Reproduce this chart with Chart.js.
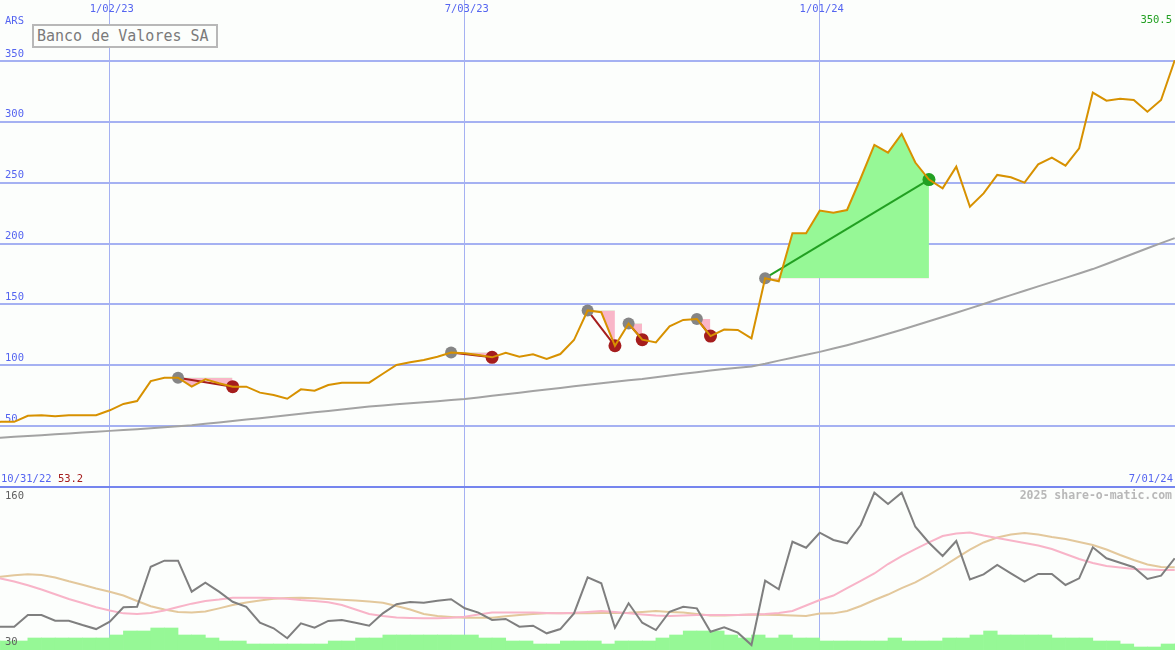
<!DOCTYPE html>
<html><head><meta charset="utf-8">
<script src="https://cdn.jsdelivr.net/npm/chart.js@4.4.1/dist/chart.umd.min.js"></script>
<style>
html,body{margin:0;padding:0;background:#fcfefc;}
#wrap{position:relative;width:1175px;height:650px;overflow:hidden;background:#fcfefc;}
#top{position:absolute;left:0;top:0;}
#bot{position:absolute;left:0;top:488px;}
#sep{position:absolute;left:0;top:486px;width:1175px;height:2px;background:#7585ee;}
#title{position:absolute;left:32px;top:24px;width:186px;height:24px;box-sizing:border-box;border:2px solid #b8b8b8;background:#fcfefc;font:15px "DejaVu Sans Mono",monospace;color:#7a7a7a;line-height:20px;padding-left:3px;white-space:nowrap;}
</style></head>
<body>
<div id="wrap">
<canvas id="top" width="1175" height="487"></canvas>
<canvas id="bot" width="1175" height="162"></canvas>
<div id="sep"></div>
<div id="title">Banco de Valores SA</div>
</div>
<script>
// ---- data (weekly, index 0 = 10/31/22, index 87 = 7/01/24) ----
const startDateLabel = '10/31/22';
const endDateLabel = '7/01/24';
const currencyLabel = 'ARS';
const dateTicks = [9, 35, 61];
const dateTickLabels = ['1/02/23', '7/03/23', '1/01/24'];
const priceTicks = [50, 100, 150, 200, 250, 300, 350];
const indicatorTickLabels = ['160', '30'];
const watermark = '2025 share-o-matic.com';

const price = [53.2,53.5,53.5,58.5,59.0,58.2,59.0,59.0,59.0,63.0,
  68.2,70.6,87.0,89.8,89.8,82.4,88.5,85.2,82.4,82.4,
  77.5,75.6,72.5,80.2,79.1,83.8,85.7,85.7,85.7,93.0,
  100.2,102.4,104.3,107.0,110.5,109.8,108.4,106.5,110.3,107.0,
  109.0,105.1,109.2,120.7,145.0,143.5,116.0,134.2,121.0,118.7,
  132.0,137.2,138.0,124.0,129.3,129.0,122.1,171.5,169.0,208.5,
  208.5,227.0,225.3,227.5,253.6,281.0,274.6,290.0,266.5,252.5,
  245.3,263.1,230.2,241.2,256.3,254.4,250.0,265.0,270.5,264.0,
  278.2,324.0,317.3,318.9,317.9,308.3,317.9,350.5];

const priceAvg = [40.0,40.5,41.2,41.9,42.6,43.3,44.0,44.7,45.4,46.1,
  46.8,47.5,48.3,49.1,49.8,50.7,51.9,53.0,54.2,55.4,
  56.5,57.7,58.9,60.1,61.3,62.5,63.7,64.9,66.1,67.0,
  67.9,68.8,69.6,70.5,71.4,72.3,73.6,74.9,76.2,77.5,
  78.8,80.1,81.4,82.7,84.0,85.3,86.5,87.7,88.8,90.2,
  91.6,93.0,94.3,95.6,96.9,98.0,99.0,101.2,103.8,106.2,
  108.6,111.0,113.7,116.5,119.5,122.6,125.9,129.2,132.6,136.1,
  139.6,143.1,146.7,150.3,154.0,157.6,161.2,164.8,168.3,171.8,
  175.3,179.0,183.2,187.5,191.8,196.1,200.3,204.4];

const tradeEntry = [14, 34, 44, 47, 52, 57];
const tradeExit  = [18, 37, 46, 48, 53, 69];

const strength = [48.7,48.7,48.7,58.1,58.1,53.5,53.5,50.0,46.8,52.7,
  64.3,64.7,96.8,101.7,101.7,76.8,84.0,76.8,68.7,64.7,
  51.9,47.4,39.4,51.4,47.9,53.3,54.1,51.9,49.5,59.4,
  66.7,68.5,67.9,69.6,70.7,63.5,60.0,54.1,54.9,48.7,
  49.5,43.4,46.8,59.4,88.3,83.5,47.9,67.5,51.9,46.0,
  60.7,64.7,63.4,44.7,48.2,43.9,34.0,85.6,78.7,116.9,
  112.1,124.1,118.3,115.6,130.3,156.2,147.2,156.2,128.9,116.1,
  105.4,117.5,86.7,90.7,98.2,91.5,84.8,91.0,91.0,82.2,
  87.5,112.4,103.6,100.0,96.4,87.0,89.6,103.6];

const strengthFast = [90.2,87.4,85.0,81.9,78.5,74.7,70.9,67.7,64.3,61.7,
  59.4,58.9,59.7,61.7,64.5,67.2,69.3,70.5,72.0,72.0,
  72.0,71.7,71.2,70.1,69.3,68.3,66.1,62.5,58.9,57.3,
  56.1,55.7,55.4,55.4,55.9,56.7,58.5,60.0,60.0,60.0,
  60.0,59.7,59.4,59.8,60.5,61.3,60.5,59.4,58.5,57.7,
  57.3,57.7,58.1,58.1,58.1,58.1,58.5,58.9,59.7,61.3,
  65.7,70.1,73.7,79.7,85.4,91.4,99.0,105.4,111.0,116.3,
  121.5,123.5,124.3,121.9,119.9,117.9,115.9,113.9,111.0,107.0,
  103.0,99.8,97.4,96.2,95.0,94.6,94.2,94.2];

const strengthSlow = [87.8,88.8,89.9,90.7,90.2,88.2,85.1,82.3,79.3,76.8,
  73.7,69.3,65.1,62.5,60.5,60.0,60.9,63.4,66.1,68.1,
  69.7,71.2,71.7,72.0,71.5,70.9,70.4,69.7,68.9,67.9,
  65.3,62.5,58.9,57.3,56.5,55.9,55.9,55.9,57.0,58.1,
  58.9,59.4,59.4,59.4,59.4,59.6,59.6,59.8,60.5,61.3,
  60.5,60.0,58.9,57.7,57.7,58.1,58.5,58.2,58.1,57.7,
  57.3,59.3,59.4,61.3,65.3,70.1,74.5,79.7,84.3,90.2,
  96.8,103.8,110.6,116.3,120.3,122.7,123.9,122.7,120.7,119.1,
  116.7,114.3,110.6,106.2,102.2,98.6,96.6,96.4];

const volume = [9,9,9,12,12,12,12,12,12,15,
  19,19,22,22,15,15,12,9,9,6,
  6,6,6,6,6,9,9,12,12,15,
  15,15,15,15,15,15,12,12,9,9,
  6,6,9,9,9,6,9,9,9,12,
  15,19,19,19,15,12,15,12,15,12,
  12,9,9,9,9,9,12,9,9,9,
  12,12,15,19,15,15,15,15,12,12,
  12,9,9,6,3,3,6,6];

// ---- styles ----
const FONT = '"DejaVu Sans Mono", monospace';
const BLUE = '#5565f0';
const GRID = '#a5b1f2';
const ORANGE = '#d79100';
const GAIN = '#96f896';
const LOSSFILL = '#f9b6c8';
const DARKRED = '#a51d1d';
const GREEN = '#22a022';
const XMIN = 0.96, XMAX = 87.02;

const pts = arr => arr.map((v, i) => ({x: i, y: v}));

// ---- top chart datasets ----
const topSets = [];
topSets.push({data: pts(price), borderColor: ORANGE, borderWidth: 2, pointRadius: 0, order: 0});
topSets.push({data: pts(priceAvg), borderColor: '#a3a3a3', borderWidth: 2, pointRadius: 0, order: 5});
tradeEntry.forEach((e, k) => {
  const x = tradeExit[k];
  const gain = price[x] > price[e];
  const seg = [];
  for (let i = e; i <= x; i++) seg.push({x: i, y: price[i]});
  topSets.push({data: seg, borderColor: 'rgba(0,0,0,0)', borderWidth: 0, pointRadius: 0,
    fill: {target: {value: price[e]}, above: GAIN, below: LOSSFILL}, order: 4});
  topSets.push({data: [{x: e, y: price[e]}, {x: x, y: price[x]}], borderColor: gain ? GREEN : DARKRED,
    borderWidth: 2, pointRadius: 0, order: 3});
  topSets.push({data: [{x: e, y: price[e]}], showLine: false, pointRadius: 6, pointHoverRadius: 6,
    pointBackgroundColor: '#858585', pointBorderWidth: 0, order: 2});
  topSets.push({data: [{x: x, y: price[x]}], showLine: false, pointRadius: 6.5, pointHoverRadius: 6.5,
    pointBackgroundColor: gain ? GREEN : DARKRED, pointBorderWidth: 0, order: 1});
});

const topText = {
  id: 'topText',
  afterDraw(chart) {
    const ctx = chart.ctx, xs = chart.scales.x;
    ctx.save();
    ctx.font = '10.5px ' + FONT;
    ctx.textBaseline = 'middle';
    ctx.fillStyle = BLUE;
    ctx.textAlign = 'center';
    dateTicks.forEach((t, k) => ctx.fillText(dateTickLabels[k], xs.getPixelForValue(t) + 2, 9));
    ctx.textAlign = 'left';
    ctx.fillText(currencyLabel, 5, 21);
    ctx.fillText(startDateLabel, 1, 479);
    const w = ctx.measureText(startDateLabel + ' ').width;
    ctx.fillStyle = DARKRED;
    ctx.fillText(price[0].toFixed(1), 1 + w, 479);
    ctx.textAlign = 'right';
    ctx.fillStyle = BLUE;
    ctx.fillText(endDateLabel, 1173, 479);
    ctx.fillStyle = GREEN;
    ctx.fillText(price[price.length - 1].toFixed(1), 1172, 20.5);
    ctx.restore();
  }
};

const xAxis = () => ({type: 'linear', position: 'top', min: XMIN, max: XMAX, offset: false,
  afterBuildTicks: s => { s.ticks = dateTicks.map(v => ({value: v})); },
  afterFit: s => { s.height = 0; s.paddingLeft = 0; s.paddingRight = 0; },
  ticks: {display: false},
  grid: {color: GRID, lineWidth: 1, drawTicks: false, offset: false},
  border: {display: false}});

new Chart(document.getElementById('top'), {
  type: 'line',
  data: {datasets: topSets},
  options: {
    responsive: false, animation: false, devicePixelRatio: 1,
    layout: {padding: 0, autoPadding: false},
    plugins: {legend: {display: false}, tooltip: {enabled: false}},
    elements: {line: {tension: 0}},
    scales: {
      x: xAxis(),
      y: {type: 'linear', position: 'left', min: 0, max: 400,
        afterBuildTicks: s => { s.ticks = priceTicks.map(v => ({value: v})); },
        afterFit: s => { s.width = 0; s.paddingTop = 0; s.paddingBottom = 0; },
        ticks: {mirror: true, padding: 5, labelOffset: -7, color: BLUE, font: {family: FONT, size: 10.5}},
        grid: {color: GRID, lineWidth: 2, drawTicks: false},
        border: {display: false}}
    }
  },
  plugins: [topText]
});

// ---- bottom chart ----
const botText = {
  id: 'botText',
  afterDraw(chart) {
    const ctx = chart.ctx;
    ctx.save();
    ctx.textBaseline = 'middle';
    ctx.font = '10.5px ' + FONT;
    ctx.fillStyle = '#606060';
    ctx.textAlign = 'left';
    ctx.fillText(indicatorTickLabels[0], 5, 8);
    ctx.fillText(indicatorTickLabels[1], 5, 154.5);
    ctx.font = 'bold 11.5px ' + FONT;
    ctx.fillStyle = '#b8b8b8';
    ctx.textAlign = 'right';
    ctx.fillText(watermark, 1172, 8);
    ctx.restore();
  }
};

new Chart(document.getElementById('bot'), {
  type: 'line',
  data: {datasets: [
    {type: 'bar', data: volume.map((v, i) => ({x: i + 0.5, y: v})), yAxisID: 'yv',
      backgroundColor: GAIN, borderWidth: 0, barPercentage: 1, categoryPercentage: 1, order: 4},
    {data: pts(strengthSlow), borderColor: '#e3c89c', borderWidth: 2, pointRadius: 0, order: 3},
    {data: pts(strengthFast), borderColor: '#f8b4c8', borderWidth: 2, pointRadius: 0, order: 2},
    {data: pts(strength), borderColor: '#7f7f7f', borderWidth: 2, pointRadius: 0, order: 1}
  ]},
  options: {
    responsive: false, animation: false, devicePixelRatio: 1,
    layout: {padding: 0, autoPadding: false},
    plugins: {legend: {display: false}, tooltip: {enabled: false}},
    elements: {line: {tension: 0}},
    scales: {
      x: xAxis(),
      y: {type: 'linear', min: 30, max: 160, display: false},
      yv: {type: 'linear', min: 0, max: 162, display: false}
    }
  },
  plugins: [botText]
});
</script>
</body></html>
